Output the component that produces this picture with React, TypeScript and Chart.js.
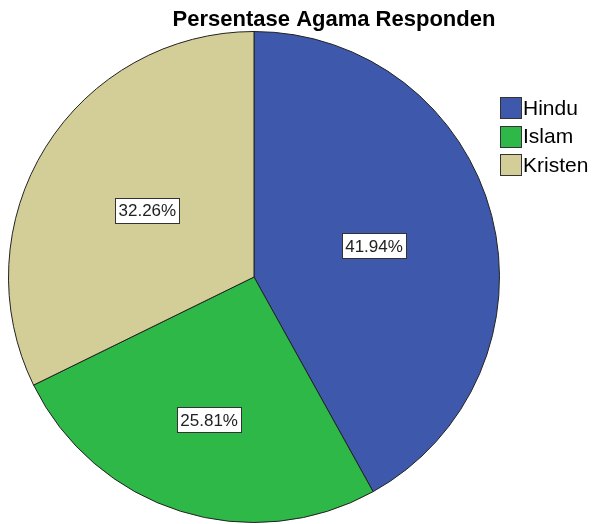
import React, { useEffect, useRef } from "react";
import { Chart, registerables } from "chart.js";

Chart.register(...registerables);

const categories = ["Hindu", "Islam", "Kristen"];
const percentages = [41.94, 25.81, 32.26];
const colors = ["#3E58AC", "#2EB848", "#D3CE97"];
const titleText = "Persentase Agama Responden";
const labelRadius = [0.505, 0.61, 0.512];

const overlayPlugin = {
  id: "overlay",
  afterDraw(chart: any) {
    const ctx = chart.ctx;
    const meta = chart.getDatasetMeta(0);
    ctx.save();
    // slice labels
    ctx.font = "17px 'Liberation Sans', Arial, sans-serif";
    ctx.textAlign = "center";
    ctx.textBaseline = "middle";
    meta.data.forEach((arc: any, i: number) => {
      const { x, y, startAngle, endAngle, outerRadius } = arc.getProps(
        ["x", "y", "startAngle", "endAngle", "outerRadius"],
        true
      );
      const mid = (startAngle + endAngle) / 2;
      const r = outerRadius * labelRadius[i];
      const lx = x + Math.cos(mid) * r;
      const ly = y + Math.sin(mid) * r;
      const txt = percentages[i].toFixed(2) + "%";
      const w = Math.round(ctx.measureText(txt).width + 6);
      const h = 25;
      const bx = Math.round(lx - w / 2) + 0.5;
      const by = Math.round(ly - h / 2) + 0.5;
      ctx.fillStyle = "#ffffff";
      ctx.fillRect(bx, by, w, h);
      ctx.strokeStyle = "#333333";
      ctx.lineWidth = 1;
      ctx.strokeRect(bx, by, w, h);
      ctx.fillStyle = "#222222";
      ctx.fillText(txt, lx, ly + 1);
    });
    // title
    ctx.font = "bold 22px 'Liberation Sans', Arial, sans-serif";
    ctx.fillStyle = "#000000";
    ctx.textAlign = "center";
    ctx.textBaseline = "alphabetic";
    ctx.fillText(titleText, 334, 26);
    // legend
    ctx.font = "21px 'Liberation Sans', Arial, sans-serif";
    ctx.textAlign = "left";
    ctx.textBaseline = "middle";
    categories.forEach((c, i) => {
      const cy = 108 + i * 28.5;
      ctx.fillStyle = colors[i];
      ctx.fillRect(500.5, Math.round(cy - 11) + 0.5, 21, 21);
      ctx.strokeStyle = "#333333";
      ctx.lineWidth = 1;
      ctx.strokeRect(500.5, Math.round(cy - 11) + 0.5, 21, 21);
      ctx.fillStyle = "#000000";
      ctx.fillText(c, 523, cy + 1);
    });
    ctx.restore();
  },
};

export default function App() {
  const ref = useRef<HTMLCanvasElement>(null);
  useEffect(() => {
    document.body.style.margin = "0";
    const chart = new Chart(ref.current!, {
      type: "pie",
      data: {
        labels: categories,
        datasets: [
          {
            data: percentages,
            backgroundColor: colors,
            borderColor: "#222222",
            borderWidth: 1,
          },
        ],
      },
      options: {
        responsive: false,
        animation: false,
        layout: { padding: { left: 8, right: 96, top: 31, bottom: 1 } },
        plugins: {
          legend: { display: false },
          title: { display: false },
          tooltip: { enabled: false },
        },
      },
      plugins: [overlayPlugin],
    });
    return () => chart.destroy();
  }, []);
  return (
    <div style={{ width: 596, height: 524, background: "#fff" }}>
      <canvas ref={ref} width={596} height={524} />
    </div>
  );
}
